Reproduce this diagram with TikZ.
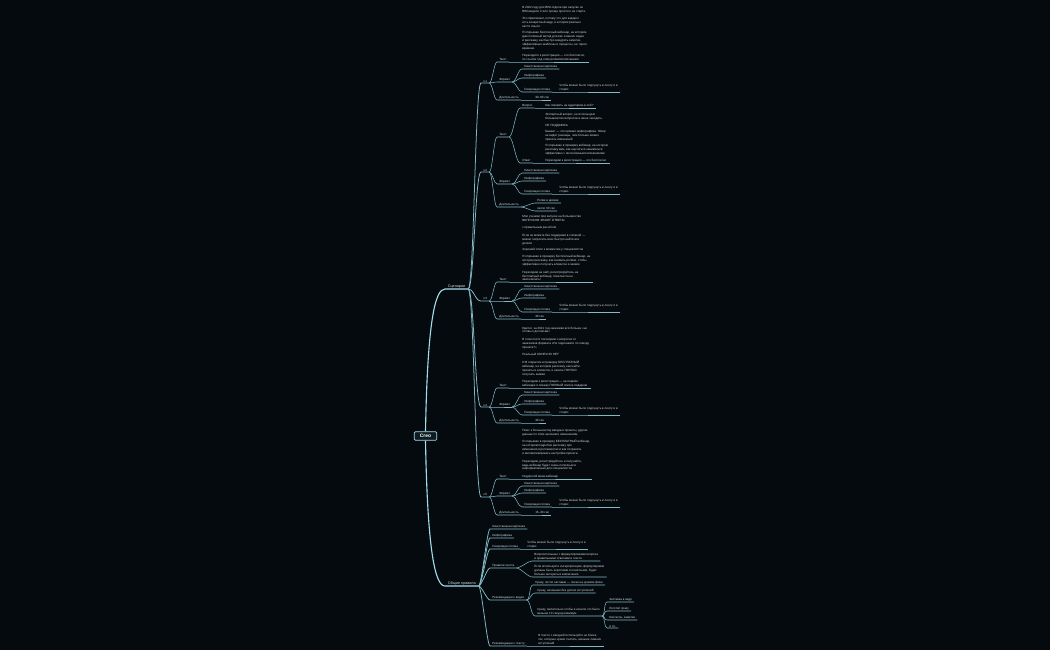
\documentclass[tikz,border=0pt]{standalone}
\usepackage{fontspec}
\setmainfont{Liberation Sans}
\definecolor{bg}{HTML}{050A0E}
\definecolor{txt}{HTML}{D2D9DD}
\definecolor{trunkc}{HTML}{A3DCEB}
\definecolor{linec}{HTML}{82B9C8}
\definecolor{rootfill}{HTML}{0E1B21}

\begin{document}
\begin{tikzpicture}[x=0.5mm, y=-0.5mm, font=\fontsize{4.3}{5.6}\selectfont,
    root/.style={draw=trunkc, line width=0.9pt, fill=rootfill, rounded corners=1.5pt, text=white, font=\fontsize{7}{8}\selectfont\bfseries, inner xsep=8pt, inner ysep=3.6pt},
    main/.style={anchor=south west, text=txt, inner xsep=4pt, inner ysep=1.2pt, font=\fontsize{5.3}{6.4}\selectfont},
    topic/.style={anchor=south west, text=txt, inner xsep=3pt, inner ysep=1.2pt, align=left},
    trunk/.style={draw=trunkc, line width=1.6pt},
    branch/.style={draw=linec, line width=1.1pt},
    twig/.style={draw=linec, line width=0.75pt}]
    \fill[bg] (0,0) rectangle (1050,650);

    \node[root] (creo) at (425.5,436) {Creo};
    \node[main] (scen) at (445,289) {Сценарии};
    \node[main] (rules) at (445,586) {Общие правила};

    \node[topic] (v1) at (481,83) {v.1};
    \node[topic] (t1) at (497,62) {Текст};
    \node[topic] (t1a) at (520,62) {В 2022 году для BIM-отдела при запуске он\\
        BIM-модели стало проще простого на старте.\\[4pt]
        Это привлекает, потому что для каждого\\
        есть конкретный кадр, в котором реально\\
        нести смысл.\\[4pt]
        Я открываю бесплатный вебинар, на котором\\
        дам полезный метод для вас и ваших задач\\
        и расскажу, как быстро внедрить заметки,\\
        эффективные шаблоны и процессы, не теряя\\
        времени.\\[4pt]
        Переходите к регистрации — это бесплатно,\\
        по ссылке под этим роликом/описанием};
    \node[topic] (f1) at (497,82) {Формат};
    \node[topic] (f1a) at (522,69) {Качественная картинка};
    \node[topic] (f1b) at (522,78) {Инфографика};
    \node[topic] (f1c) at (522,92) {Говорящая голова};
    \node[topic] (f1d) at (557,92) {Чтобы можно было подсунуть в ленту и в\\ сторис};
    \node[topic] (d1) at (497,100) {Длительность};
    \node[topic] (d1a) at (533,100) {30–60 сек};

    \node[topic] (v2) at (481,172) {v.2};
    \node[topic] (t2) at (497,137) {Текст};
    \node[topic] (t2q) at (520,108) {Вопрос};
    \node[topic] (t2qa) at (543,108) {Как говорить на аудиторию в лоб?};
    \node[topic] (t2o) at (520,163) {Ответ};
    \node[topic] (t2oa) at (543,163) {Экспертный вопрос, не используем\\
        большинство вопросов в нише заходить.\\[4pt]
        НЕ ПОДДАЮСЬ\\[3pt]
        Бывает — это прямая инфографика. Юзер\\
        не видит разницы, чем больше можно\\
        принять изменений\\[4pt]
        Я открываю в проверку вебинар, на котором\\
        расскажу вам, как научиться заниматься\\
        эффективно с интенсивными вложениями\\[4pt]
        Переходим к регистрации — это бесплатно};
    \node[topic] (f2) at (497,184) {Формат};
    \node[topic] (f2a) at (522,173) {Качественная картинка};
    \node[topic] (f2b) at (522,181) {Инфографика};
    \node[topic] (f2c) at (522,194) {Говорящая голова};
    \node[topic] (f2d) at (557,194) {Чтобы можно было подсунуть в ленту и в\\ сторис};
    \node[topic] (d2) at (497,207) {Длительность};
    \node[topic] (d2a) at (535,203) {Ролик в архиве};
    \node[topic] (d2b) at (535,211) {около 30 сек};

    \node[topic] (v3) at (481,301) {v.3};
    \node[topic] (t3) at (497,282) {Текст};
    \node[topic] (t3a) at (520,282) {Мои ученики при запуске на большинство\\
        ВОПРОСОВ ЗНАЮТ ОТВЕТЫ\\[5pt]
        с правильным расчётом\\[5pt]
        Если не можете без поддержки в сложной —\\
        можно попросить всех быстро найти все\\
        детали\\[3pt]
        Хороший плюс к моментам у специалистов\\[5pt]
        Я открываю в проверку бесплатный вебинар, на\\
        котором расскажу, как снимать ролики, чтобы\\
        эффективно получать клиентов и заявки\\[5pt]
        Переходим на сайт, регистрируйтесь на\\
        бесплатный вебинар, пока места не\\
        закончились!};
    \node[topic] (f3) at (497,301) {Формат};
    \node[topic] (f3a) at (522,289) {Качественная картинка};
    \node[topic] (f3b) at (522,298) {Инфографика};
    \node[topic] (f3c) at (522,312) {Говорящая голова};
    \node[topic] (f3d) at (557,312) {Чтобы можно было подсунуть в ленту и в\\ сторис};
    \node[topic] (d3) at (497,319) {Длительность};
    \node[topic] (d3a) at (533,319) {30 сек};

    \node[topic] (v4) at (481,407) {v.4};
    \node[topic] (t4) at (497,388) {Текст};
    \node[topic] (t4a) at (520,388) {Кратко: за 2021 год заказчики всё больше «не\\
        готовы к доплатам»\\[5pt]
        В этом посте поговорим о вопросах от\\
        заказчиков формата «Не подскажете по поводу\\
        проекта?»\\[5pt]
        Реальный КОНЕЧНО НЕТ\\[5pt]
        И В открытом в проверку БЕСПЛАТНЫЙ\\
        вебинар, на котором расскажу, как найти\\
        проекты и клиентов, и начать ГОРЯЧО\\
        получать заявки.\\[5pt]
        Переходим к регистрации — на первом\\
        вебинаре я покажу ПОЛНЫЙ список подарков};
    \node[topic] (f4) at (497,407) {Формат};
    \node[topic] (f4a) at (522,395) {Качественная картинка};
    \node[topic] (f4b) at (522,404) {Инфографика};
    \node[topic] (f4c) at (522,415) {Говорящая голова};
    \node[topic] (f4d) at (557,415) {Чтобы можно было подсунуть в ленту и в\\ сторис};
    \node[topic] (d4) at (497,423) {Длительность};
    \node[topic] (d4a) at (533,423) {30 сек};

    \node[topic] (v5) at (481,497) {v.5};
    \node[topic] (t5) at (497,479) {Текст};
    \node[topic] (t5a) at (520,479) {Плюс к большинству вводных проекты, другие\\
        данные по этим законам и изменениям\\[5pt]
        Я открываю в проверку БЕСПЛАТНЫЙ вебинар,\\
        на котором подробно расскажу про\\
        изменения в регламентах и как сохранить\\
        и автоматизировать настройки проекта.\\[5pt]
        Переходим, регистрируйтесь и получайте,\\
        ведь вебинар будет очень полезным и\\
        информативным для специалистов\\[5pt]
        Недорогой мини-вебинар};
    \node[topic] (f5) at (497,496) {Формат};
    \node[topic] (f5a) at (522,486) {Качественная картинка};
    \node[topic] (f5b) at (522,493) {Инфографика};
    \node[topic] (f5c) at (522,507) {Говорящая голова};
    \node[topic] (f5d) at (557,507) {Чтобы можно было подсунуть в ленту и в\\ сторис};
    \node[topic] (d5) at (497,515) {Длительность};
    \node[topic] (d5a) at (533,515) {15–30 сек};

    \node[topic] (r1) at (490,529) {Качественная картинка};
    \node[topic] (r2) at (490,538) {Инфографика};
    \node[topic] (r3) at (490,549) {Говорящая голова};
    \node[topic] (r3a) at (525,549) {Чтобы можно было подсунуть в ленту и в\\ сторис};
    \node[topic] (r4) at (490,568) {Правила текста};
    \node[topic] (r4a) at (532,561) {Вопросительные с формулировками вопроса\\ и правильными ответами в тексте};
    \node[topic] (r4b) at (532,577) {Если используете интерпретацию, формулировки\\ должны быть короткими и понятными, будет\\ больше интереса и вовлечения};
    \node[topic] (r5) at (490,600) {Рекомендации к видео};
    \node[topic] (r5a) at (533,585) {Сразу, после заставки — показ на нужном фоне};
    \node[topic] (r5b) at (535,593) {Сразу, начинаем без долгих вступлений};
    \node[topic] (r5c) at (535,616) {Сразу, желательно чтобы в начале это было\\ меньше 10 секунд минимум};
    \node[topic] (r5c1) at (607,602) {Заставка в кадр};
    \node[topic] (r5c2) at (607,611) {Логотип сразу};
    \node[topic] (r5c3) at (607,620) {Контакты, заметки};
    \node[topic] (r5c4) at (607,628) {и т.п.};
    \node[topic] (r6) at (490,646) {Рекомендации к тексту};
    \node[topic] (r6a) at (536,646) {В тексте с вводной используйте не более\\ тех, которые нужно считать, меньше лишних\\ вступлений};

    \draw[trunk] (creo.north) .. controls +(2,-110) and +(-10,0) .. (scen.south west) -- (scen.south east);
    \draw[trunk] (creo.south) .. controls +(2,110) and +(-10,0) .. (rules.south west) -- (rules.south east);

    \draw[branch] (scen.south east) .. controls +(6,0) and +(-6,0) .. (v1.south west) -- (v1.south east);
    \draw[branch] (scen.south east) .. controls +(6,0) and +(-6,0) .. (v2.south west) -- (v2.south east);
    \draw[branch] (scen.south east) .. controls +(6,0) and +(-6,0) .. (v3.south west) -- (v3.south east);
    \draw[branch] (scen.south east) .. controls +(6,0) and +(-6,0) .. (v4.south west) -- (v4.south east);
    \draw[branch] (scen.south east) .. controls +(6,0) and +(-6,0) .. (v5.south west) -- (v5.south east);

    \draw[twig] (v1.south east) .. controls +(3,0) and +(-3,0) .. (t1.south west) -- (t1.south east);
    \draw[twig] (v1.south east) .. controls +(3,0) and +(-3,0) .. (f1.south west) -- (f1.south east);
    \draw[twig] (v1.south east) .. controls +(3,0) and +(-3,0) .. (d1.south west) -- (d1.south east);
    \draw[twig] (t1.south east) -- (t1a.south west) -- (t1a.south east);
    \draw[twig] (f1.south east) .. controls +(4,0) and +(-4,0) .. (f1a.south west) -- (f1a.south east);
    \draw[twig] (f1.south east) .. controls +(4,0) and +(-4,0) .. (f1b.south west) -- (f1b.south east);
    \draw[twig] (f1.south east) .. controls +(4,0) and +(-4,0) .. (f1c.south west) -- (f1c.south east);
    \draw[twig] (f1c.south east) -- (f1d.south west) -- (f1d.south east);
    \draw[twig] (d1.south east) -- (d1a.south west) -- (d1a.south east);

    \draw[twig] (v2.south east) .. controls +(3,0) and +(-3,0) .. (t2.south west) -- (t2.south east);
    \draw[twig] (v2.south east) .. controls +(3,0) and +(-3,0) .. (f2.south west) -- (f2.south east);
    \draw[twig] (v2.south east) .. controls +(3,0) and +(-3,0) .. (d2.south west) -- (d2.south east);
    \draw[twig] (t2.south east) .. controls +(4,0) and +(-4,0) .. (t2q.south west) -- (t2q.south east);
    \draw[twig] (t2.south east) .. controls +(4,0) and +(-4,0) .. (t2o.south west) -- (t2o.south east);
    \draw[twig] (t2q.south east) -- (t2qa.south west) -- (t2qa.south east);
    \draw[twig] (t2o.south east) -- (t2oa.south west) -- (t2oa.south east);
    \draw[twig] (f2.south east) .. controls +(4,0) and +(-4,0) .. (f2a.south west) -- (f2a.south east);
    \draw[twig] (f2.south east) .. controls +(4,0) and +(-4,0) .. (f2b.south west) -- (f2b.south east);
    \draw[twig] (f2.south east) .. controls +(4,0) and +(-4,0) .. (f2c.south west) -- (f2c.south east);
    \draw[twig] (f2c.south east) -- (f2d.south west) -- (f2d.south east);
    \draw[twig] (d2.south east) .. controls +(4,0) and +(-4,0) .. (d2a.south west) -- (d2a.south east);
    \draw[twig] (d2.south east) .. controls +(4,0) and +(-4,0) .. (d2b.south west) -- (d2b.south east);

    \draw[twig] (v3.south east) .. controls +(3,0) and +(-3,0) .. (t3.south west) -- (t3.south east);
    \draw[twig] (v3.south east) .. controls +(3,0) and +(-3,0) .. (f3.south west) -- (f3.south east);
    \draw[twig] (v3.south east) .. controls +(3,0) and +(-3,0) .. (d3.south west) -- (d3.south east);
    \draw[twig] (t3.south east) -- (t3a.south west) -- (t3a.south east);
    \draw[twig] (f3.south east) .. controls +(4,0) and +(-4,0) .. (f3a.south west) -- (f3a.south east);
    \draw[twig] (f3.south east) .. controls +(4,0) and +(-4,0) .. (f3b.south west) -- (f3b.south east);
    \draw[twig] (f3.south east) .. controls +(4,0) and +(-4,0) .. (f3c.south west) -- (f3c.south east);
    \draw[twig] (f3c.south east) -- (f3d.south west) -- (f3d.south east);
    \draw[twig] (d3.south east) -- (d3a.south west) -- (d3a.south east);

    \draw[twig] (v4.south east) .. controls +(3,0) and +(-3,0) .. (t4.south west) -- (t4.south east);
    \draw[twig] (v4.south east) .. controls +(3,0) and +(-3,0) .. (f4.south west) -- (f4.south east);
    \draw[twig] (v4.south east) .. controls +(3,0) and +(-3,0) .. (d4.south west) -- (d4.south east);
    \draw[twig] (t4.south east) -- (t4a.south west) -- (t4a.south east);
    \draw[twig] (f4.south east) .. controls +(4,0) and +(-4,0) .. (f4a.south west) -- (f4a.south east);
    \draw[twig] (f4.south east) .. controls +(4,0) and +(-4,0) .. (f4b.south west) -- (f4b.south east);
    \draw[twig] (f4.south east) .. controls +(4,0) and +(-4,0) .. (f4c.south west) -- (f4c.south east);
    \draw[twig] (f4c.south east) -- (f4d.south west) -- (f4d.south east);
    \draw[twig] (d4.south east) -- (d4a.south west) -- (d4a.south east);

    \draw[twig] (v5.south east) .. controls +(3,0) and +(-3,0) .. (t5.south west) -- (t5.south east);
    \draw[twig] (v5.south east) .. controls +(3,0) and +(-3,0) .. (f5.south west) -- (f5.south east);
    \draw[twig] (v5.south east) .. controls +(3,0) and +(-3,0) .. (d5.south west) -- (d5.south east);
    \draw[twig] (t5.south east) -- (t5a.south west) -- (t5a.south east);
    \draw[twig] (f5.south east) .. controls +(4,0) and +(-4,0) .. (f5a.south west) -- (f5a.south east);
    \draw[twig] (f5.south east) .. controls +(4,0) and +(-4,0) .. (f5b.south west) -- (f5b.south east);
    \draw[twig] (f5.south east) .. controls +(4,0) and +(-4,0) .. (f5c.south west) -- (f5c.south east);
    \draw[twig] (f5c.south east) -- (f5d.south west) -- (f5d.south east);
    \draw[twig] (d5.south east) -- (d5a.south west) -- (d5a.south east);

    \draw[branch] (rules.south east) .. controls +(3,0) and +(-3,0) .. (r1.south west) -- (r1.south east);
    \draw[branch] (rules.south east) .. controls +(3,0) and +(-3,0) .. (r2.south west) -- (r2.south east);
    \draw[branch] (rules.south east) .. controls +(3,0) and +(-3,0) .. (r3.south west) -- (r3.south east);
    \draw[branch] (rules.south east) .. controls +(3,0) and +(-3,0) .. (r4.south west) -- (r4.south east);
    \draw[branch] (rules.south east) .. controls +(3,0) and +(-3,0) .. (r5.south west) -- (r5.south east);
    \draw[branch] (rules.south east) .. controls +(3,0) and +(-3,0) .. (r6.south west) -- (r6.south east);
    \draw[twig] (r3.south east) -- (r3a.south west) -- (r3a.south east);
    \draw[twig] (r4.south east) .. controls +(4,0) and +(-4,0) .. (r4a.south west) -- (r4a.south east);
    \draw[twig] (r4.south east) .. controls +(4,0) and +(-4,0) .. (r4b.south west) -- (r4b.south east);
    \draw[twig] (r5.south east) .. controls +(4,0) and +(-4,0) .. (r5a.south west) -- (r5a.south east);
    \draw[twig] (r5.south east) .. controls +(4,0) and +(-4,0) .. (r5b.south west) -- (r5b.south east);
    \draw[twig] (r5.south east) .. controls +(4,0) and +(-4,0) .. (r5c.south west) -- (r5c.south east);
    \draw[twig] (r5c.south east) .. controls +(3,0) and +(-3,0) .. (r5c1.south west) -- (r5c1.south east);
    \draw[twig] (r5c.south east) .. controls +(3,0) and +(-3,0) .. (r5c2.south west) -- (r5c2.south east);
    \draw[twig] (r5c.south east) .. controls +(3,0) and +(-3,0) .. (r5c3.south west) -- (r5c3.south east);
    \draw[twig] (r5c.south east) .. controls +(3,0) and +(-3,0) .. (r5c4.south west) -- (r5c4.south east);
    \draw[twig] (r6.south east) -- (r6a.south west) -- (r6a.south east);
\end{tikzpicture}
\end{document}
